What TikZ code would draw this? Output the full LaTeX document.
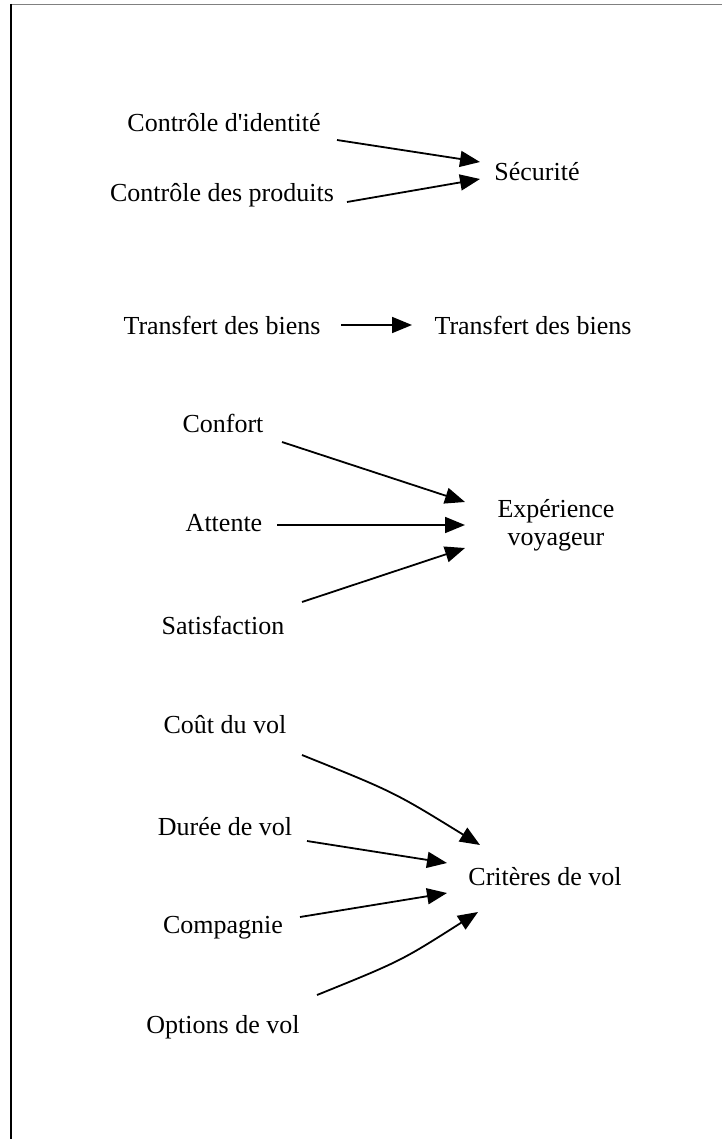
\documentclass[tikz,border=0pt]{standalone}
\usepackage{fontspec}
\newfontfamily\libser{Liberation Serif}
\usetikzlibrary{calc,arrows.meta}
\begin{document}
\begin{tikzpicture}[x=1pt,y=-1pt,
  lbl/.style={inner sep=0pt,font=\libser\fontsize{26}{28}\selectfont,align=center},
  arr/.style={line width=1.8pt,-{Triangle[length=20pt,width=16pt]}}]
\useasboundingbox (0,0) rectangle (722,1139);
\draw[line width=1.5pt,gray] (11,4.5) -- (722,4.5);
\draw[line width=1.5pt,black] (11,4) -- (11,1139);
% nodes
\node[lbl] (ci) at (224,123) {Contrôle d'identité};
\node[lbl] (cp) at (222,195) {Contrôle des produits};
\node[lbl] (sec) at (537,172) {Sécurité};
\node[lbl] (tb1) at (222,325) {Transfert des biens};
\node[lbl] (tb2) at (533,325) {Transfert des biens};
\node[lbl] (conf) at (223,423) {Confort};
\node[lbl] (att) at (224,523) {Attente};
\node[lbl] (sat) at (223,625) {Satisfaction};
\node[lbl] (exp) at (556,525) {Expérience\\voyageur};
\node[lbl] (cout) at (225,725) {Coût du vol};
\node[lbl] (dur) at (225,827) {Durée de vol};
\node[lbl] (comp) at (223,928) {Compagnie};
\node[lbl] (opt) at (223,1027) {Options de vol};
\node[lbl] (crit) at (545,877) {Critères de vol};
% edges
\draw[arr] ($(ci)+(113,17)$) -- ($(sec)+(-57,-10)$);
\draw[arr] ($(cp)+(125,7)$) -- ($(sec)+(-57,7)$);
\draw[arr] ($(tb1)+(119,0)$) -- ($(tb2)+(-121,0)$);
\draw[arr] ($(conf)+(59,19)$) -- ($(exp)+(-91,-23)$);
\draw[arr] ($(att)+(53,2)$) -- ($(exp)+(-91,0)$);
\draw[arr] ($(sat)+(79,-23)$) -- ($(exp)+(-91,23)$);
\draw[arr] ($(cout)+(77,30)$) .. controls ($(cout)+(169,67)$) .. ($(crit)+(-65,-32)$);
\draw[arr] ($(dur)+(82,14)$) -- ($(crit)+(-98,-14)$);
\draw[arr] ($(comp)+(77,-11)$) -- ($(crit)+(-98,16)$);
\draw[arr] ($(opt)+(94,-32)$) .. controls ($(opt)+(178,-66)$) .. ($(crit)+(-67,35)$);
\end{tikzpicture}
\end{document}
